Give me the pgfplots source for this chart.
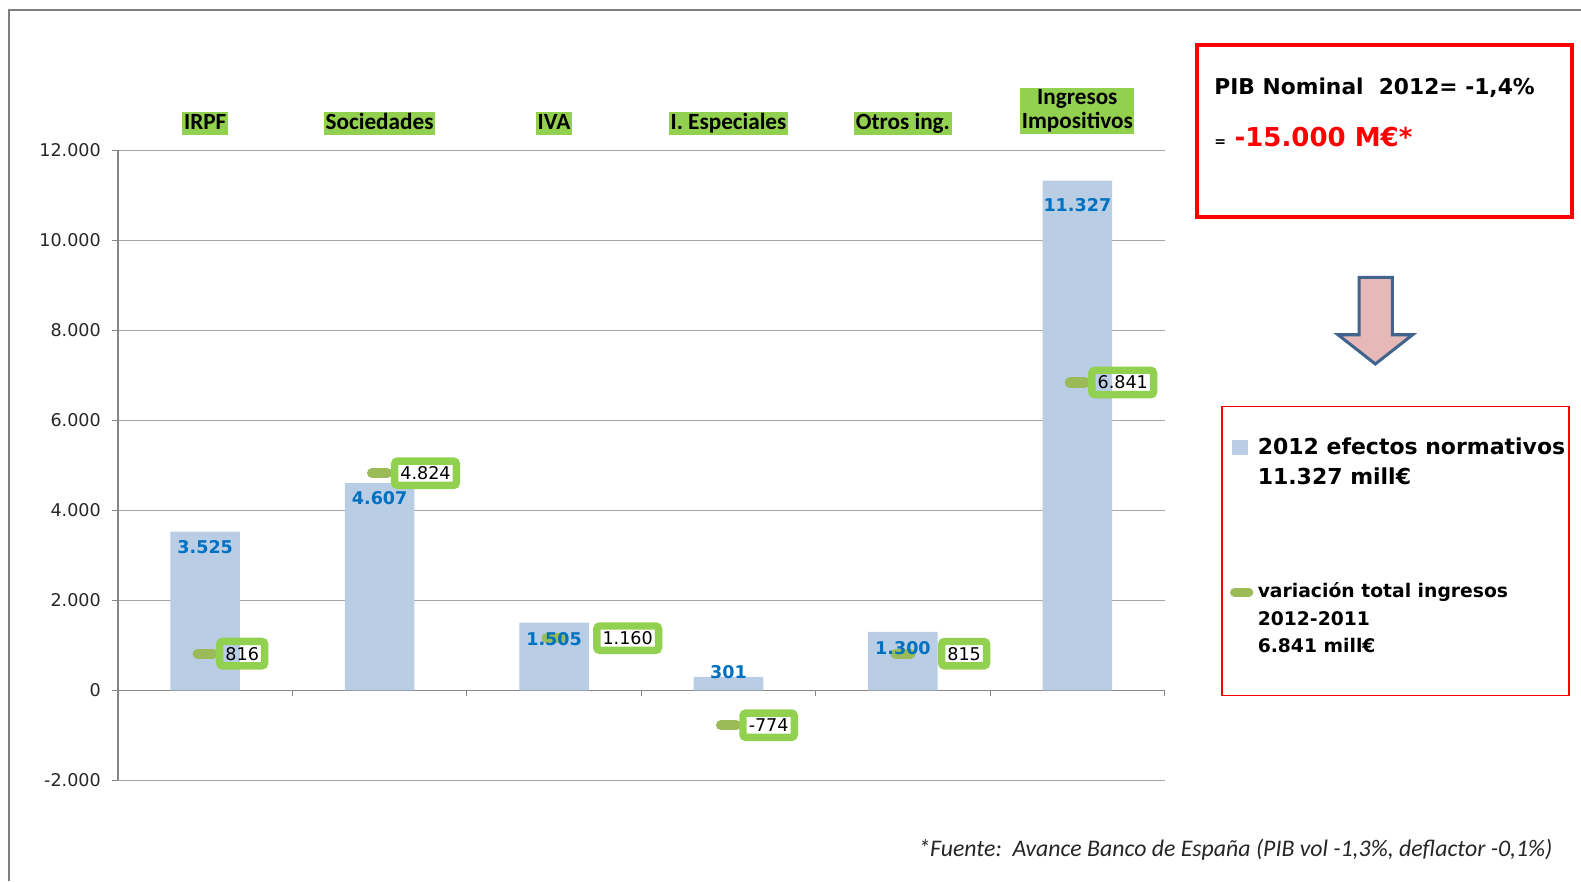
\documentclass[border=0pt]{standalone}
\usepackage{pgfplots}
\pgfplotsset{compat=1.18}
\usepackage{pgfplotstable}
\usepackage{fontspec}
\setmainfont{Carlito}
\newfontfamily\dejavu{DejaVu Sans}

\definecolor{barblue}{HTML}{B9CDE5}
\definecolor{valblue}{HTML}{0070C0}
\definecolor{markgreen}{HTML}{9BBB59}
\definecolor{labgreen}{HTML}{92D050}
\definecolor{gridgray}{HTML}{A6A6A6}
\definecolor{axisgray}{HTML}{868686}
\definecolor{framegray}{HTML}{7F7F7F}
\definecolor{arrowfill}{HTML}{E6B9B8}
\definecolor{arrowline}{HTML}{41648F}

% 2012 efectos normativos (mill. EUR); dy = shift of the value label
\pgfplotstableread{
x  y      lab     dy
0  3525   3.525   -7.7
1  4607   4.607   -7.3
2  1505   1.505   -8
3  301    301     2.3
4  1300   1.300   -8
5  11327  11.327  -12
}\efectos

% variacion total ingresos 2012-2011; dx = shift of the boxed label
\pgfplotstableread{
x  y      lab     dx
0  816    816     5.35
1  4824   4.824   5.6
2  1160   1.160   19.35
3  -774   -774    5.35
4  815    815     17.35
5  6841   6.841   5.35
}\variacion

\tikzset{
  catlab/.style={fill=labgreen, inner xsep=0.8pt, inner ysep=0pt,
    font=\bfseries\fontsize{11.5}{12}\selectfont, text height=8.8pt, text depth=2.6pt},
}

\begin{document}
\begin{tikzpicture}
\path[use as bounding box] (0,0) rectangle (784pt,437pt);

\begin{axis}[
  at={(58.5pt,50pt)}, anchor=south west,
  scale only axis, width=519pt, height=312.5pt,
  clip=false,
  xmin=-0.5, xmax=5.5, ymin=-2000, ymax=12000,
  axis y line*=left, axis x line*=middle,
  hide obscured x ticks=false, hide obscured y ticks=false,
  axis line style={axisgray, line width=0.6pt, -},
  xtick={0.5,1.5,...,5.5}, xticklabels={},
  ytick={-2000,0,...,12000},
  yticklabels={-2.000,0,2.000,4.000,6.000,8.000,10.000,12.000},
  scaled y ticks=false,
  tick align=outside, major tick length=3pt,
  tick style={axisgray, line width=0.6pt},
  ymajorgrids, grid style={gridgray, line width=0.6pt},
  yticklabel style={font=\dejavu\fontsize{8.7}{10}\selectfont, text=black!85, xshift=-2pt},
]
\addplot[ybar, bar width=34.5pt, fill=barblue, draw=none] table[x=x, y=y] {\efectos};

\addplot[only marks, mark=-, mark size=3.75pt,
  mark options={draw=markgreen, line width=5pt, line cap=round},
  point meta=explicit symbolic,
  visualization depends on={\thisrow{dx}\as\dx},
  nodes near coords,
  every node near coord/.append style={anchor=west, xshift=\dx pt,
    draw=labgreen, line width=3.7pt, rounded corners=1.5pt, inner sep=2.85pt,
    text=black, font=\dejavu\fontsize{8.7}{10}\selectfont,
    text height=6.4pt, text depth=0pt}]
  table[x=x, y=y, meta=lab] {\variacion};

\addplot[draw=none, mark=none,
  point meta=explicit symbolic,
  visualization depends on={\thisrow{dy}\as\dy},
  nodes near coords,
  every node near coord/.append style={anchor=center, yshift=\dy pt, inner sep=0pt,
    text=valblue, font=\dejavu\bfseries\fontsize{8.7}{10}\selectfont}]
  table[x=x, y=y, meta=lab] {\efectos};

\node[catlab, yshift=13.5pt] at (axis cs:0,12000) {IRPF};
\node[catlab, yshift=13.5pt] at (axis cs:1,12000) {Sociedades};
\node[catlab, yshift=13.5pt] at (axis cs:2,12000) {IVA};
\node[catlab, yshift=13.5pt] at (axis cs:3,12000) {I. Especiales};
\node[catlab, yshift=13.5pt] at (axis cs:4,12000) {Otros ing.};
\node[fill=labgreen, inner xsep=0.8pt, inner ysep=0.6pt, align=center,
  font=\bfseries\fontsize{11.5}{12}\selectfont, yshift=19.5pt] at (axis cs:5,12000) {Ingresos\\Impositivos};
\end{axis}

% annotations, in pixels of the reference (origin top left)
\begin{scope}[x=0.5pt, y=-0.5pt, yshift=437pt]
\draw[framegray, line width=1pt] (9,874) -- (9,10) -- (1568,10);

\draw[red, line width=2pt] (1187,45) rectangle (1559,215);
\node[anchor=base west, inner sep=0pt, font=\dejavu\bfseries\fontsize{10.8}{12}\selectfont]
  at (1204,94) {PIB Nominal\ \ 2012= -1,4\%};
\node[anchor=base west, inner sep=0pt, font=\dejavu\bfseries\fontsize{7}{8}\selectfont]
  at (1204,145) {=};
\node[anchor=base west, inner sep=0pt, text=red, font=\dejavu\bfseries\fontsize{12.9}{14}\selectfont]
  at (1224,145) {-15.000 M€*};

\draw[arrowline, fill=arrowfill, line width=1.5pt, line join=miter]
  (1348,275) -- (1381,275) -- (1381,332) -- (1401,332) -- (1364,361)
  -- (1327,332) -- (1348,332) -- cycle;

\draw[red, line width=0.6pt] (1212,403) rectangle (1556,690);
\fill[barblue] (1222,436) rectangle (1238,451);
\node[anchor=base west, inner sep=0pt, font=\dejavu\bfseries\fontsize{10.9}{12}\selectfont]
  at (1247,451) {2012 efectos normativos};
\node[anchor=base west, inner sep=0pt, font=\dejavu\bfseries\fontsize{10.9}{12}\selectfont]
  at (1247,481) {11.327 mill€};
\draw[markgreen, line width=4.5pt, line cap=round] (1224.5,587.5) -- (1238.5,587.5);
\node[anchor=base west, inner sep=0pt, font=\dejavu\bfseries\fontsize{9.3}{11}\selectfont]
  at (1247,593) {variación total ingresos};
\node[anchor=base west, inner sep=0pt, font=\dejavu\bfseries\fontsize{9.3}{11}\selectfont]
  at (1247,620) {2012-2011};
\node[anchor=base west, inner sep=0pt, font=\dejavu\bfseries\fontsize{9.3}{11}\selectfont]
  at (1247,647) {6.841 mill€};

\node[anchor=base east, inner sep=0pt, font=\itshape\fontsize{11.8}{13}\selectfont, text=black!85]
  at (1540,849) {*Fuente:\ \ Avance Banco de España (PIB vol -1,3\%, deflactor -0,1\%)};
\end{scope}
\end{tikzpicture}
\end{document}
